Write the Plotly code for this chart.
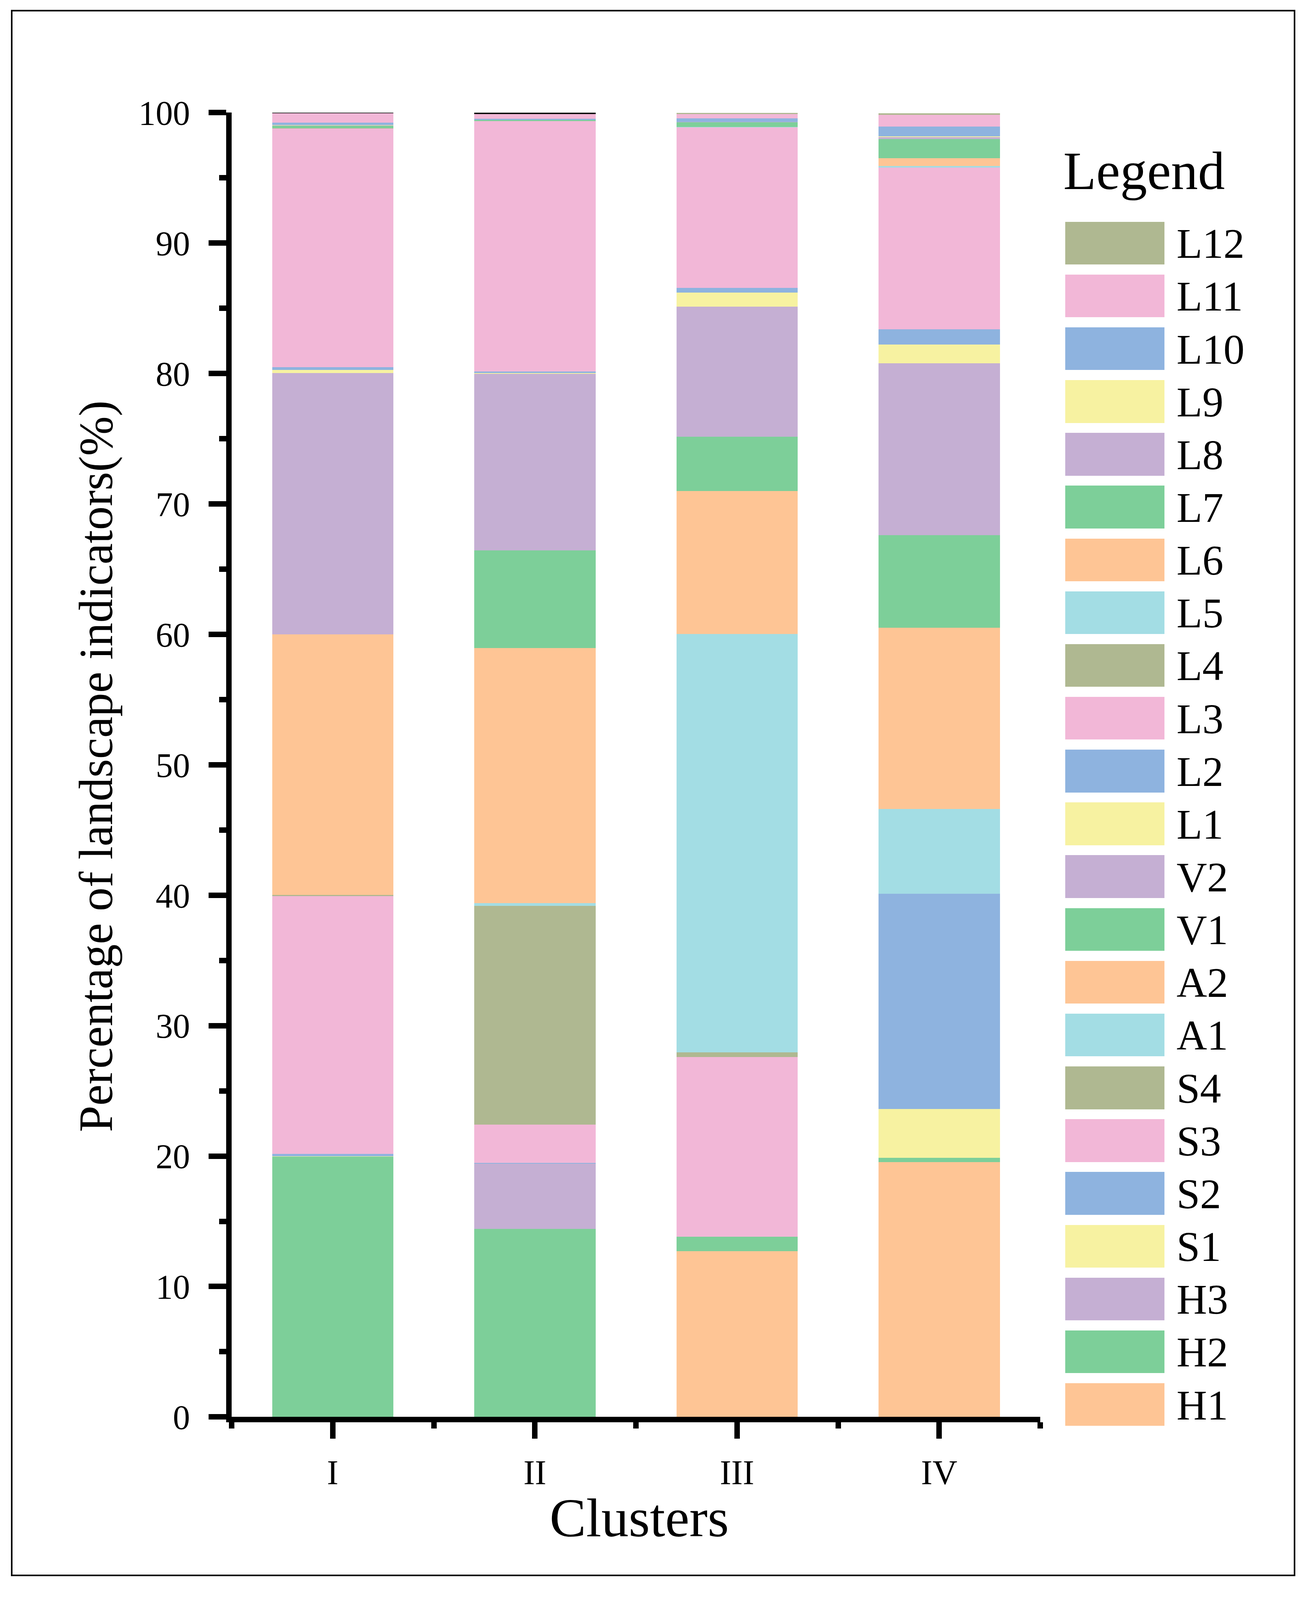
import plotly.graph_objects as go

clusters = ["I", "II", "III", "IV"]
series = ["H1", "H2", "H3", "S1", "S2", "S3", "S4", "A1", "A2", "V1", "V2",
          "L1", "L2", "L3", "L4", "L5", "L6", "L7", "L8", "L9", "L10", "L11", "L12"]

# percentage of each indicator per cluster (I, II, III, IV)
H1 = [0.0, 0.0, 12.70, 19.54]
H2 = [19.95, 14.41, 1.12, 0.34]
H3 = [0.0, 5.02, 0.0, 0.0]
S1 = [0.05, 0.0, 0.0, 3.72]
S2 = [0.18, 0.04, 0.0, 16.50]
S3 = [19.76, 2.93, 13.78, 0.0]
S4 = [0.08, 16.79, 0.34, 0.0]
A1 = [0.0, 0.19, 32.08, 6.50]
A2 = [19.99, 19.56, 10.98, 13.90]
V1 = [0.0, 7.49, 4.15, 7.10]
V2 = [20.02, 13.54, 9.98, 13.20]
L1 = [0.24, 0.06, 1.08, 1.41]
L2 = [0.21, 0.13, 0.36, 1.19]
L3 = [18.31, 19.18, 12.31, 12.39]
L4 = [0.02, 0.0, 0.0, 0.0]
L5 = [0.0, 0.0, 0.03, 0.11]
L6 = [0.0, 0.0, 0.0, 0.60]
L7 = [0.20, 0.11, 0.35, 1.47]
L8 = [0.02, 0.0, 0.03, 0.16]
L9 = [0.02, 0.0, 0.0, 0.05]
L10 = [0.17, 0.07, 0.28, 0.76]
L11 = [0.73, 0.36, 0.33, 0.88]
L12 = [0.12, 0.12, 0.09, 0.13]

values = [H1, H2, H3, S1, S2, S3, S4, A1, A2, V1, V2,
          L1, L2, L3, L4, L5, L6, L7, L8, L9, L10, L11, L12]

_CYCLE = ["#FEC595", "#7DCF99", "#C5AFD3", "#F7F2A1",
          "#8EB3DF", "#F2B7D7", "#AFB891", "#A3DDE4"]
colors = [_CYCLE[i % len(_CYCLE)] for i in range(len(series))]

# page size; the layout is measured on a 3328x4610 sheet and kept as fractions
W, H = 3328, 4040
REF_H = 4610
FONT = "Liberation Serif, Times New Roman, serif"


def px_x(p):
    return p / W


def px_y(p):
    return 1 - p / REF_H


fig = go.Figure()
xs = list(range(len(clusters)))
for name, vals, col in zip(series, values, colors):
    mc = col
    if name == "L12":
        # the tiny top segment shows up as a black rim on I and II
        mc = ["#000000", "#000000", col, col]
    fig.add_trace(go.Bar(x=xs, y=vals, name=name, width=0.6,
                         marker=dict(color=mc, line=dict(width=0)),
                         showlegend=False, xaxis="x", yaxis="y"))

# legend drawn as a second little bar panel
fig.add_trace(go.Bar(x=[1] * len(series), y=series, orientation="h", width=0.81,
                     marker=dict(color=colors, line=dict(width=0)),
                     showlegend=False, xaxis="x2", yaxis="y2", hoverinfo="y"))

axis_common = dict(showline=True, linecolor="black", linewidth=14, ticks="outside",
                   tickcolor="black", tickwidth=14, showgrid=False,
                   zeroline=False, automargin=False,
                   tickfont=dict(family=FONT, size=88, color="black"))

fig.update_layout(
    width=W, height=H, barmode="stack",
    paper_bgcolor="white", plot_bgcolor="white",
    margin=dict(l=0, r=0, t=0, b=0),
    font=dict(family=FONT, color="black"),
    xaxis=dict(domain=[px_x(585), px_x(2655)], range=[-0.5, 3.5],
               tickvals=xs, ticktext=clusters, ticklen=42, ticklabelstandoff=10,
               minor=dict(tick0=-0.5, dtick=1, ticks="outside", ticklen=16,
                          tickwidth=14, tickcolor="black"),
               anchor="y", **axis_common),
    yaxis=dict(domain=[px_y(4130), px_y(320)], range=[0, 100], dtick=10,
               ticklen=45, ticklabelstandoff=30,
               minor=dict(dtick=5, ticks="outside", ticklen=18,
                          tickwidth=14, tickcolor="black"),
               anchor="x", **axis_common),
    xaxis2=dict(domain=[px_x(2719), px_x(2973)], range=[0, 1], visible=False,
                anchor="y2"),
    yaxis2=dict(domain=[px_y(4171), px_y(624)], range=[-0.5, len(series) - 0.5],
                side="right", anchor="x2", showline=False, ticks="",
                showgrid=False, zeroline=False, automargin=False,
                ticklabelstandoff=30,
                tickfont=dict(family=FONT, size=108, color="black")),
)

fig.add_annotation(text="Percentage of landscape indicators(%)", textangle=-90,
                   xref="paper", yref="paper", x=px_x(238), y=px_y(2230),
                   xanchor="center", yanchor="middle", showarrow=False,
                   font=dict(family=FONT, size=122, color="black"))
fig.add_annotation(text="Clusters", xref="paper", yref="paper",
                   x=px_x(1628), y=px_y(4425), xanchor="center", yanchor="middle",
                   showarrow=False, font=dict(family=FONT, size=140, color="black"))
fig.add_annotation(text="Legend", xref="paper", yref="paper",
                   x=px_x(2712), y=px_y(490), xanchor="left", yanchor="middle",
                   showarrow=False, font=dict(family=FONT, size=138, color="black"))

fig.add_shape(type="rect", xref="paper", yref="paper",
              x0=px_x(22), x1=px_x(3306), y0=px_y(4593), y1=px_y(22),
              line=dict(color="black", width=4))

fig.write_html("out.html")
